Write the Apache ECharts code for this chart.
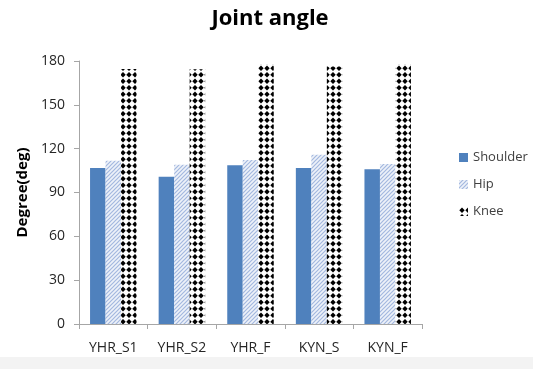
<!DOCTYPE html>
<html>
<head>
<meta charset="utf-8">
<script src="https://cdn.jsdelivr.net/npm/echarts@6/dist/echarts.min.js"></script>
<style>
  html, body { margin: 0; padding: 0; background: #fff; }
  #chart { width: 533px; height: 369px; }
</style>
</head>
<body>
<div id="chart"></div>
<script>
// Joint angles per trial
const categories = ['YHR_S1', 'YHR_S2', 'YHR_F', 'KYN_S', 'KYN_F'];
const shoulder = [106.8, 100.8, 108.6, 106.8, 105.9];
const hip = [111.8, 109.0, 112.3, 115.9, 109.5];
const knee = [174.6, 174.3, 177.8, 176.2, 177.8];
const yTicks = [0, 30, 60, 90, 120, 150, 180];

// Diagonal stripe fill for the hip bars
function stripePattern() {
  const c = document.createElement('canvas');
  c.width = 4; c.height = 4;
  const g = c.getContext('2d');
  g.fillStyle = '#eef2f9';
  g.fillRect(0, 0, 4, 4);
  g.strokeStyle = '#a3b8df';
  g.lineWidth = 1.2;
  g.beginPath();
  g.moveTo(-1, 5); g.lineTo(5, -1);
  g.moveTo(-1, 1); g.lineTo(1, -1);
  g.moveTo(3, 5); g.lineTo(5, 3);
  g.stroke();
  return c;
}

// Black diamond grid fill for the knee bars
function diamondPattern() {
  const c = document.createElement('canvas');
  c.width = 6; c.height = 13;
  const g = c.getContext('2d');
  g.fillStyle = '#ffffff';
  g.fillRect(0, 0, 6, 13);
  g.fillStyle = '#000000';
  [3.25, 9.75].forEach(function (cy) {
    g.beginPath();
    g.moveTo(3, cy - 2.8);
    g.lineTo(5.7, cy);
    g.lineTo(3, cy + 2.8);
    g.lineTo(0.3, cy);
    g.closePath();
    g.fill();
  });
  g.fillStyle = '#9a9a9a';
  g.fillRect(0, 3, 1, 0.8);
  g.fillRect(0, 9.5, 1, 0.8);
  return c;
}

const chart = echarts.init(document.getElementById('chart'));
const hipFill = { image: stripePattern(), repeat: 'repeat' };
const kneeFill = { image: diamondPattern(), repeat: 'repeat' };
const font = 'Open Sans';

chart.setOption({
  animation: false,
  backgroundColor: '#ffffff',
  title: {
    text: 'Joint angle',
    left: 265,
    textAlign: 'center',
    top: 3,
    textStyle: { fontFamily: font, fontSize: 22, fontWeight: 'bold', color: '#000' }
  },
  legend: {
    orient: 'vertical',
    left: 454,
    top: 146,
    itemWidth: 9,
    itemHeight: 9,
    itemGap: 14,
    icon: 'rect',
    textStyle: { fontFamily: font, fontSize: 13, color: '#404040' },
    data: ['Shoulder', 'Hip', 'Knee']
  },
  grid: { left: 79, right: 111, top: 61, bottom: 45 },
  xAxis: {
    type: 'category',
    data: categories,
    axisLine: { lineStyle: { color: '#a6a6a6', width: 1 } },
    axisTick: { show: true, alignWithLabel: false, length: 5, lineStyle: { color: '#a6a6a6' } },
    axisLabel: { fontFamily: font, fontSize: 14, color: '#262626', margin: 17 }
  },
  yAxis: {
    type: 'value',
    min: yTicks[0],
    max: yTicks[yTicks.length - 1],
    interval: 30,
    name: 'Degree(deg)',
    nameLocation: 'middle',
    nameGap: 43,
    nameTextStyle: { fontFamily: font, fontSize: 15, fontWeight: 'bold', color: '#000' },
    axisLine: { show: true, lineStyle: { color: '#a6a6a6', width: 1 } },
    axisTick: { show: true, length: 5, lineStyle: { color: '#a6a6a6' } },
    axisLabel: { fontFamily: font, fontSize: 14, color: '#262626', margin: 14 },
    splitLine: { show: false }
  },
  series: [
    {
      name: 'Shoulder', type: 'bar', data: shoulder,
      barWidth: 15.5, barGap: '0%',
      itemStyle: { color: '#4f81bd' }
    },
    {
      name: 'Hip', type: 'bar', data: hip,
      barWidth: 15.5, barGap: '0%',
      itemStyle: { color: hipFill }
    },
    {
      name: 'Knee', type: 'bar', data: knee,
      barWidth: 15.5, barGap: '0%',
      itemStyle: { color: kneeFill }
    }
  ],
  graphic: [
    {
      type: 'rect',
      shape: { x: 0, y: 357, width: 533, height: 12 },
      style: { fill: '#f3f3f3' },
      z: -1
    }
  ]
});
</script>
</body>
</html>
